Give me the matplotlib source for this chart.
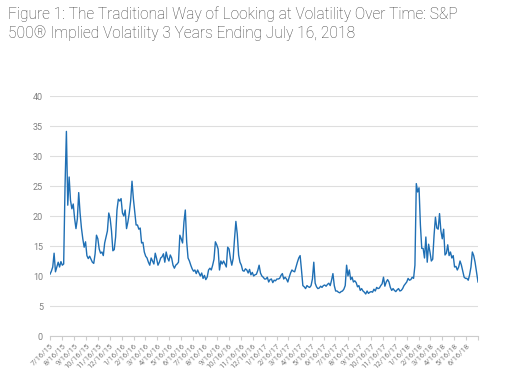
import numpy as np
import pandas as pd
import matplotlib.pyplot as plt

# implied volatility, twice a week from 7/16/15, last value 7/16/18
start = '2015-07-16'
vol = [10.3, 10.8, 11.5, 13.8, 10.7, 11.5, 12.3, 11.5, 12.4, 11.8,
       12.0, 25.0, 34.1, 21.8, 26.5, 22.6, 21.2, 22.0, 19.6, 17.9,
       19.5, 23.9, 20.5, 18.0, 16.2, 14.8, 15.7, 13.4, 12.9, 13.3,
       12.8, 12.3, 12.1, 13.7, 16.8, 16.2, 14.5, 13.8, 14.0, 13.4,
       15.5, 16.5, 17.5, 20.5, 19.6, 17.5, 14.2, 14.4, 16.5, 21.0,
       22.8, 22.5, 22.9, 20.5, 20.0, 21.0, 17.9, 19.0, 20.5, 22.5,
       25.8, 22.9, 20.7, 18.5, 18.5, 17.8, 18.0, 15.5, 15.6, 14.0,
       13.3, 13.0, 12.3, 11.8, 13.0, 12.5, 12.0, 13.8, 12.9, 11.8,
       12.3, 13.0, 13.2, 13.7, 12.3, 14.0, 13.0, 12.5, 13.5, 13.0,
       11.8, 11.3, 11.8, 12.0, 12.3, 16.8, 16.2, 15.5, 19.0, 21.0,
       15.7, 13.0, 12.5, 11.8, 11.2, 10.8, 11.0, 10.4, 11.0, 10.5,
       10.0, 10.5, 9.6, 10.1, 9.4, 9.8, 11.0, 11.3, 11.0, 11.8,
       12.8, 15.7, 15.2, 14.5, 11.0, 12.5, 12.0, 12.5, 12.0, 11.5,
       14.8, 14.5, 12.9, 11.8, 12.9, 16.2, 19.1, 17.0, 13.5, 12.3,
       11.8, 10.9, 10.8, 11.2, 11.0, 10.5, 11.1, 10.2, 10.6, 10.0,
       10.2, 10.3, 10.9, 11.8, 10.5, 10.0, 9.8, 9.5, 9.5, 9.8,
       9.0, 9.4, 9.5, 8.9, 9.3, 9.2, 9.5, 9.5, 9.6, 10.1,
       10.4, 9.5, 9.8, 9.5, 9.0, 9.8, 10.5, 11.0, 10.8, 10.7,
       11.5, 12.3, 13.0, 13.4, 11.0, 8.4, 8.2, 7.9, 8.4, 8.2,
       8.1, 8.4, 9.5, 12.3, 8.8, 8.2, 7.9, 8.0, 8.3, 8.1,
       8.4, 8.5, 8.3, 8.6, 8.8, 8.4, 9.3, 10.4, 8.4, 7.5,
       7.5, 7.3, 7.2, 7.4, 7.5, 7.8, 8.4, 11.8, 10.0, 11.0,
       9.4, 9.8, 9.0, 9.2, 8.9, 8.2, 8.4, 7.6, 7.9, 7.5,
       7.3, 7.0, 7.5, 7.1, 7.3, 7.4, 7.3, 7.8, 7.5, 8.1,
       7.9, 8.0, 8.4, 8.7, 9.8, 8.3, 9.0, 9.4, 9.0, 8.1,
       7.6, 7.9, 7.6, 7.4, 7.7, 7.9, 7.5, 7.6, 7.9, 8.4,
       8.7, 9.0, 9.6, 9.3, 9.4, 9.8, 9.6, 11.8, 25.4, 24.0,
       24.7, 18.5, 14.6, 14.6, 13.0, 16.5, 12.3, 15.3, 14.0, 12.5,
       12.8, 16.8, 19.8, 18.0, 17.8, 20.4, 17.5, 16.2, 17.8, 13.5,
       13.8, 15.2, 13.4, 14.0, 13.0, 13.4, 11.5, 11.6, 11.0, 11.5,
       12.5, 11.8, 10.8, 9.8, 9.6, 9.6, 9.3, 10.2, 11.5, 14.0,
       13.4, 12.3, 10.8, 9.0]
dates = pd.date_range(start, periods=len(vol) - 1, freq='84h').append(
    pd.DatetimeIndex(['2018-07-16']))

tick_labels = ['7/16/15', '8/16/15', '9/16/15', '10/16/15', '11/16/15', '12/16/15',
               '1/16/16', '2/16/16', '3/16/16', '4/16/16', '5/16/16', '6/16/16',
               '7/16/16', '8/16/16', '9/16/16', '10/16/16', '11/16/16', '12/16/16',
               '1/16/17', '2/16/17', '3/16/17', '4/16/17', '5/16/17', '6/16/17',
               '7/16/17', '8/16/17', '9/16/17', '10/16/17', '11/16/17', '12/16/17',
               '1/16/18', '2/16/18', '3/16/18', '4/16/18', '5/16/18', '6/16/18']
tick_dates = pd.to_datetime(tick_labels + ['7/16/18'], format='%m/%d/%y')

plt.rcParams['font.family'] = ['Roboto', 'DejaVu Sans']

fig = plt.figure(figsize=(5.07, 3.72), dpi=100)
ax = fig.add_axes([50/507, 1 - 336/372, 428/507, 240/372])

ax.plot(dates, vol, color='#1f6fb4', lw=1.0)

ax.set_ylim(0, 40)
ax.set_yticks(range(0, 41, 5))
ax.set_xlim(tick_dates[0], tick_dates[-1])
ax.set_xticks(tick_dates)
ax.set_xticklabels(tick_labels + [''], rotation=45, ha='right', rotation_mode='anchor')

ax.grid(axis='y', color='#dedede', lw=0.8)
ax.set_axisbelow(True)
for s in ['top', 'right', 'left']:
    ax.spines[s].set_visible(False)
ax.spines['bottom'].set_color('#cccccc')
ax.spines['bottom'].set_linewidth(0.8)
ax.tick_params(axis='y', length=0, pad=5, labelsize=6.5, labelcolor='#808080')
ax.tick_params(axis='x', length=3, color='#cccccc', pad=1.5, labelsize=5.6, labelcolor='#808080')

fig.text(8/507, 1 - 14/372, 'Figure 1: The Traditional Way of Looking at Volatility Over Time: S&P',
         fontsize=11.2, color='#404040', fontweight='light', va='center', ha='left')
fig.text(8/507, 1 - 33/372, '500® Implied Volatility 3 Years Ending July 16, 2018',
         fontsize=11.2, color='#404040', fontweight='light', va='center', ha='left')

plt.savefig('out.png', dpi=100)
